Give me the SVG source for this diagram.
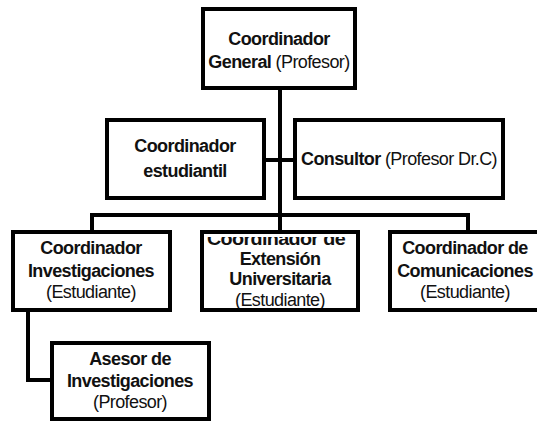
<svg xmlns="http://www.w3.org/2000/svg" width="537" height="421" viewBox="0 0 537 421">
<style>
.box{fill:#fff;stroke:#000;stroke-width:4}
.ln{fill:none;stroke:#000;stroke-width:4}
text{font-family:"Liberation Sans",Arial,sans-serif;font-size:18px;letter-spacing:-0.6px;fill:#111;text-anchor:middle}
.b{font-weight:bold}
.r{font-weight:normal}
</style>
<defs>
<clipPath id="cm"><rect x="204" y="237" width="152" height="71"/></clipPath>
</defs>
<rect width="537" height="421" fill="#fff"/>
<g id="connectors">
<path class="ln" d="M280 88V215"/>
<path class="ln" d="M264 160H295"/>
<path class="ln" d="M92 232V215H468V232"/>
<path class="ln" d="M280 215V232"/>
<path class="ln" d="M28 310V380H52"/>
</g>
<g id="n-general">
<rect class="box" x="203" y="9" width="152" height="79"/>
<text x="279" y="45" class="b">Coordinador</text>
<text x="279" y="68"><tspan class="b">General</tspan><tspan class="r"> (Profesor)</tspan></text>
</g>
<g id="n-estudiantil">
<rect class="box" x="107" y="120" width="157" height="78"/>
<text x="185" y="152" class="b">Coordinador</text>
<text x="185" y="177" class="b">estudiantil</text>
</g>
<g id="n-consultor">
<rect class="box" x="295" y="120" width="208" height="78"/>
<text x="399" y="165"><tspan class="b">Consultor</tspan><tspan class="r"> (Profesor Dr.C)</tspan></text>
</g>
<g id="n-investigaciones">
<rect class="box" x="13" y="232" width="157" height="78"/>
<text x="91" y="254" class="b">Coordinador</text>
<text x="91" y="277" class="b">Investigaciones</text>
<text x="91" y="298" class="r">(Estudiante)</text>
</g>
<g id="n-extension">
<rect class="box" x="202" y="232" width="156" height="78"/>
<g clip-path="url(#cm)">
<text x="276" y="245" class="b" textLength="138" lengthAdjust="spacingAndGlyphs">Coordinador de</text>
<text x="280" y="265" class="b">Extensión</text>
<text x="280" y="285" class="b">Universitaria</text>
<text x="280" y="306" class="r">(Estudiante)</text>
</g>
</g>
<g id="n-comunicaciones">
<rect class="box" x="390" y="232" width="149" height="78"/>
<text x="465" y="254" class="b">Coordinador de</text>
<text x="465" y="277" class="b">Comunicaciones</text>
<text x="465" y="298" class="r">(Estudiante)</text>
</g>
<g id="n-asesor">
<rect class="box" x="52" y="343" width="157" height="76"/>
<text x="130" y="365" class="b">Asesor de</text>
<text x="130" y="387" class="b">Investigaciones</text>
<text x="130" y="408" class="r">(Profesor)</text>
</g>
</svg>
